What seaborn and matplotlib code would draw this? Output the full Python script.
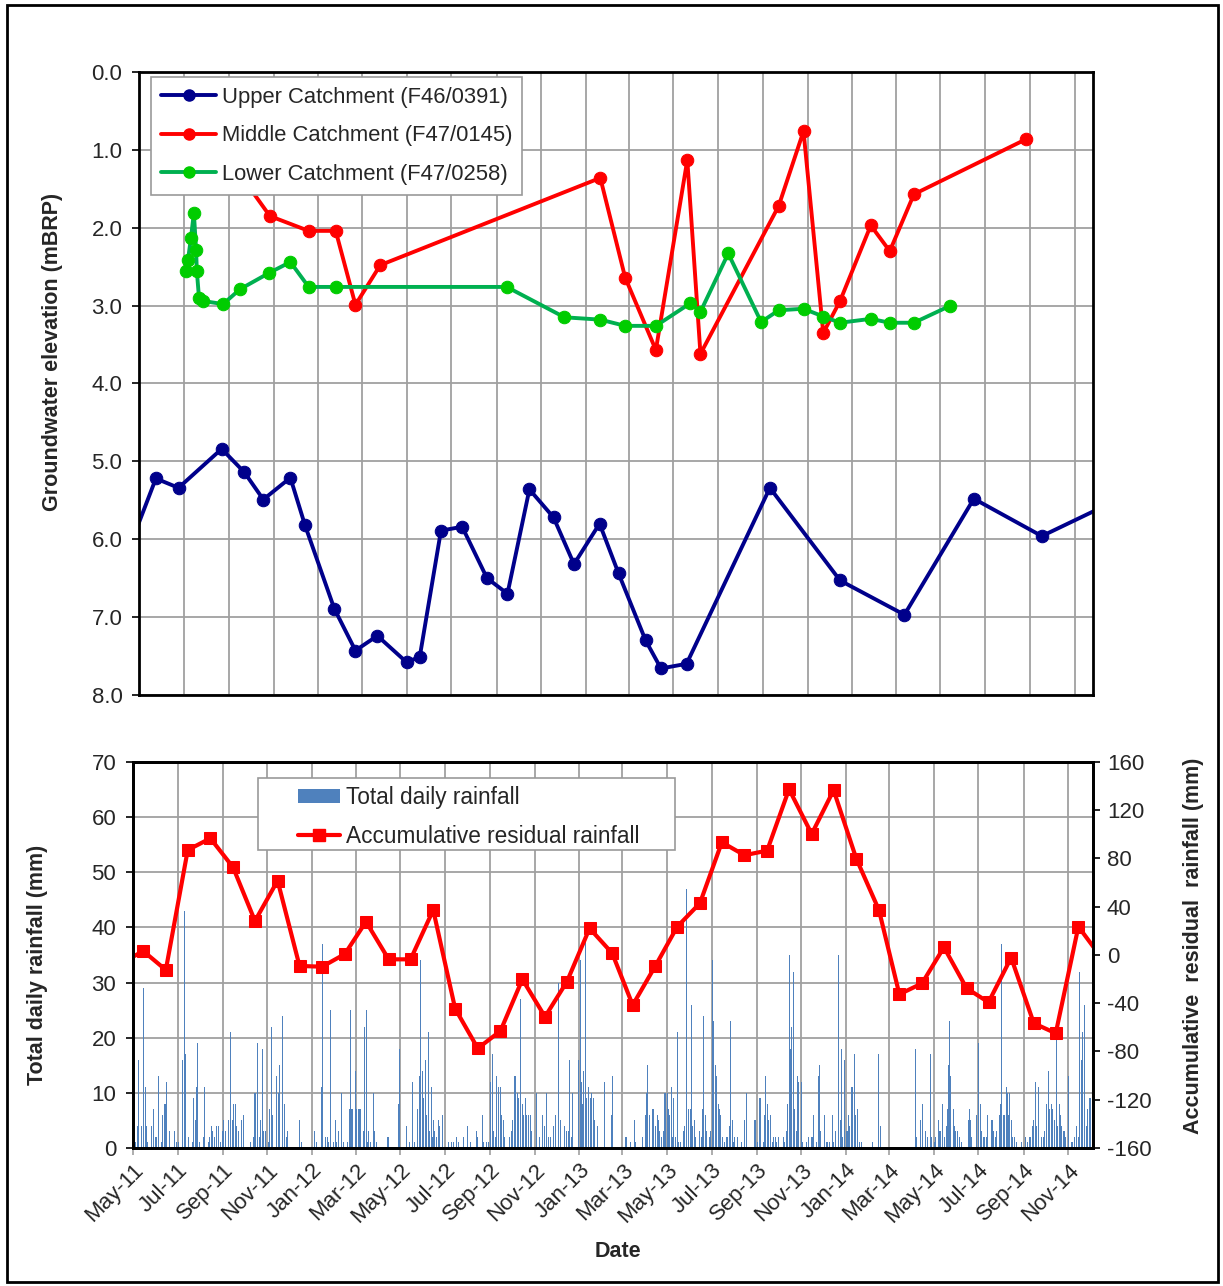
import numpy as np
import pandas as pd
import matplotlib
matplotlib.use('Agg')
import matplotlib.pyplot as plt
import matplotlib.dates as mdates
from matplotlib.patches import Rectangle, Patch
from matplotlib.lines import Line2D
import seaborn as sns

#------------------------------- DATA ---------------------------------------#
# groundwater levels (m below reference point)
upper_dates = ['2011-04-14', '2011-05-24', '2011-06-24', '2011-08-22', '2011-09-22',
               '2011-10-18', '2011-11-24', '2011-12-14', '2012-01-23', '2012-02-21',
               '2012-03-22', '2012-05-01', '2012-05-19', '2012-06-17', '2012-07-16',
               '2012-08-19', '2012-09-16', '2012-10-16', '2012-11-18', '2012-12-16',
               '2013-01-20', '2013-02-15', '2013-03-24', '2013-04-14', '2013-05-19',
               '2013-09-10', '2013-12-15', '2014-03-13', '2014-06-16', '2014-09-17',
               '2014-12-17']
upper_level = [6.2, 5.22, 5.34, 4.84, 5.14, 5.49, 5.21, 5.82, 6.89, 7.43, 7.24, 7.58,
               7.51, 5.89, 5.84, 6.50, 6.70, 5.36, 5.72, 6.32, 5.80, 6.44, 7.30, 7.66,
               7.60, 5.34, 6.53, 6.97, 5.48, 5.96, 5.55]

middle_dates = ['2011-09-15', '2011-10-27', '2011-12-19', '2012-01-25', '2012-02-21',
                '2012-03-26', '2013-01-21', '2013-02-24', '2013-04-07', '2013-05-20',
                '2013-06-07', '2013-09-22', '2013-10-26', '2013-11-22', '2013-12-15',
                '2014-01-26', '2014-02-21', '2014-03-26', '2014-08-27']
middle_level = [1.3, 1.85, 2.04, 2.04, 2.99, 2.48, 1.36, 2.64, 3.57, 1.13, 3.62, 1.72,
                0.76, 3.35, 2.94, 1.97, 2.30, 1.57, 0.86]

lower_dates = ['2011-07-04', '2011-07-07', '2011-07-11', '2011-07-15', '2011-07-18',
               '2011-07-19', '2011-07-22', '2011-07-27', '2011-08-24', '2011-09-16',
               '2011-10-26', '2011-11-24', '2011-12-19', '2012-01-25', '2012-09-15',
               '2012-12-03', '2013-01-21', '2013-02-24', '2013-04-07', '2013-05-24',
               '2013-06-07', '2013-07-15', '2013-08-29', '2013-09-22', '2013-10-26',
               '2013-11-22', '2013-12-15', '2014-01-26', '2014-02-21', '2014-03-26',
               '2014-05-15']
lower_level = [2.55, 2.41, 2.13, 1.81, 2.28, 2.55, 2.90, 2.94, 2.98, 2.79, 2.58, 2.44,
               2.76, 2.76, 2.76, 3.15, 3.18, 3.26, 3.26, 2.97, 3.08, 2.33, 3.21, 3.06,
               3.04, 3.14, 3.22, 3.17, 3.22, 3.22, 3.00]

# accumulative residual rainfall, one value per month (Apr-11 .. Dec-14)
resid_mm = [-7, 3.3, -12.4, 87, 96.7, 72.7, 28.2, 61.6, -9.1,
            -9.7, 0.8, 27.6, -3.6, -3.6, 37.3, -44.5, -77.4, -63, -20.2, -51.2, -22.1,
            22.1, 1.4, -41.5, -9.1, 23.5, 42.9, 93.4, 82.7, 86.5, 137.4, 100.3, 136.6,
            79.9, 37.3, -32.6, -23.5, 6.4, -27.6, -39.2, -2.2, -56.6, -64.9, 23.5,
            -1]

# total daily rainfall: day number counted from 1 May 2011, and mm
rain_day = [4, 6, 8, 12, 15, 17, 19, 20, 26, 28, 31, 32, 35, 39, 41, 43, 45, 46, 48, 50,
            57, 60, 62, 68, 70, 71, 72, 74, 76, 81, 83, 85, 87, 89, 91, 96, 98, 100, 103,
            105, 107, 109, 111, 115, 117, 120, 122, 124, 127, 131, 133, 134, 136, 138,
            140, 142, 144, 148, 151, 161, 165, 166, 168, 170, 173, 175, 177, 179, 182,
            186, 187, 189, 191, 196, 197, 199, 201, 205, 207, 208, 210, 212, 228, 231,
            249, 251, 256, 258, 259, 260, 263, 266, 268, 271, 274, 277, 279, 281, 286,
            288, 294, 296, 298, 299, 301, 304, 306, 309, 310, 312, 315, 317, 319, 320,
            321, 323, 325, 329, 330, 333, 345, 348, 350, 363, 365, 374, 379, 382, 383,
            386, 389, 392, 393, 394, 396, 398, 400, 402, 404, 406, 408, 410, 412, 413,
            415, 418, 420, 423, 424, 432, 436, 439, 443, 445,
            449, 452, 458, 462, 470, 471, 479, 480, 484, 486, 490, 492, 494, 496, 498,
            500, 501, 503, 505, 507, 509, 516, 518, 520, 522, 524, 526, 528, 530, 531,
            533, 535, 537, 539, 541, 542, 544, 546, 552, 553, 557, 561, 563, 566, 569,
            572, 575, 578, 582, 583, 585, 591, 593, 596, 598, 600, 602, 610, 612, 614,
            615, 617, 619, 621, 623, 624, 626, 628, 630, 632, 636, 646, 655, 656, 674,
            676, 681, 686, 688, 694, 697, 701, 703, 704, 707, 711, 713, 715, 718, 719,
            721, 723, 726, 728, 729, 731, 733, 735, 737, 739, 740, 743, 745, 747, 750,
            753, 755, 757, 758, 760, 761, 763, 764, 766, 768, 770, 776, 778, 780, 781,
            783, 785, 789, 791, 793, 795, 797, 799, 801, 803, 804, 807, 810, 812, 814,
            816, 818, 820, 822, 823, 827, 833, 835, 837, 840, 851, 852, 855, 857, 859,
            861, 863, 864, 866, 868, 870, 872, 873, 875, 877, 879, 881, 883, 884, 887,
            890,
            892, 894, 896, 898, 899, 900, 902, 904, 906, 908, 909, 911, 913, 915, 917,
            922, 924, 929, 930, 932, 935, 938, 940, 941, 946, 949, 951, 953, 957, 959,
            961, 962, 965, 966, 968, 970, 971, 974, 976, 978, 980, 981, 983, 985, 987,
            989, 991, 992, 994, 997, 1012, 1020, 1023, 1071, 1073, 1078, 1081, 1085,
            1087, 1091, 1093, 1095, 1097, 1099, 1102, 1104, 1105, 1108, 1111, 1113, 1115,
            1116, 1117, 1119, 1121, 1123, 1125, 1126, 1128, 1131, 1134, 1143, 1145, 1146,
            1148, 1155, 1157, 1158, 1160, 1162, 1164, 1166, 1168, 1170, 1173, 1175, 1177,
            1178, 1180, 1182, 1184, 1186, 1188, 1189, 1191, 1193, 1195, 1197, 1199, 1200,
            1202, 1204, 1207, 1209, 1216, 1222, 1224, 1227, 1229, 1231, 1233, 1235, 1237,
            1239, 1240, 1243, 1246, 1248, 1250, 1251, 1253, 1255, 1257, 1259, 1261, 1262,
            1264, 1266, 1268, 1270, 1271, 1273, 1275, 1277, 1280, 1281, 1284, 1286, 1289,
            1291, 1292, 1294, 1296, 1298, 1300, 1302, 1303, 1305, 1307, 1309, 1311]
rain_mm = [1, 4, 16, 4, 29, 11, 4, 1, 4, 7, 2, 2, 13, 1, 6, 8, 8, 12, 1, 3,
           3, 1, 1, 16, 43, 15, 17, 13, 2, 1, 9, 5, 11, 19, 1, 2, 11, 7, 1,
           2, 4, 3, 2, 4, 4, 1, 3, 5, 3, 5, 2, 21, 5, 8,
           8, 4, 3, 5, 6, 1, 2, 10, 10, 19, 2, 5, 18, 3, 3,
           1, 7, 22, 6, 13, 3, 10, 15, 24, 8, 4, 2, 3, 5, 1,
           3, 1, 3, 11, 37, 16, 2, 2, 1, 25, 1, 5, 1, 3, 10,
           1, 1, 7, 25, 7, 7, 14, 7, 7, 7, 7, 3, 22, 2, 25,
           1, 3, 1, 10, 3, 1, 2, 2, 2, 8, 18, 4, 1, 12, 8,
           1, 7, 13, 13, 34, 14, 9, 16, 6, 21, 3, 11, 2, 5, 3,
           2, 5, 4, 11, 6, 1, 1, 1, 2, 1,
           3, 2, 4, 1, 3, 2, 6, 1, 1, 1, 12, 17, 3, 2, 13,
           11, 7, 11, 6, 5, 2, 2, 3, 5, 13, 13, 10, 9, 6, 27,
           8, 6, 9, 6, 6, 4, 6, 3, 10, 5, 2, 6, 4, 10, 2,
           2, 4, 6, 30, 5, 5, 4, 3, 3, 16, 2, 10, 16, 34, 12,
           8, 14, 38, 9, 5, 11, 9, 10, 9, 5, 4, 12, 6, 13, 2,
           2, 1, 5, 1, 4, 2, 6, 10, 15, 6, 7, 7, 4, 6, 5,
           3, 2, 3, 10, 10, 10, 7, 6, 11, 2, 9, 2, 21, 1, 1,
           3, 4, 47, 13, 7, 7, 7, 26, 4, 5, 2, 3, 2, 7, 24,
           6, 3, 2, 3, 34, 23, 15, 13, 8, 7, 6, 2, 1, 2, 2,
           4, 23, 5, 1, 2, 2, 1, 3, 5, 10, 5, 5, 1, 9, 9,
           17, 1, 6, 13, 8, 5, 4, 6, 1, 2, 2, 1, 2, 2, 2,
           2,
           1, 3, 8, 35, 21, 18, 22, 32, 7, 3, 13, 12, 12, 12, 1,
           1, 2, 2, 2, 6, 1, 13, 15, 3, 6, 1, 1, 1, 6, 1,
           1, 3, 5, 35, 5, 18, 2, 16, 3, 3, 6, 4, 11, 11, 17,
           6, 6, 7, 1, 1, 1, 17, 4, 18, 2, 5, 8, 3,
           2, 17, 2, 15, 1, 2, 5, 3, 3, 8, 2, 4, 7,
           15, 23, 13, 31, 7, 4, 3, 3, 2, 1, 5, 7, 5,
           2, 6, 19, 6, 8, 3, 2, 2, 2, 6, 4, 5, 5,
           3, 2, 3, 2, 6, 8, 37, 6, 6, 11, 10, 6, 10,
           5, 2, 2, 1, 1, 2, 1, 2, 2, 4, 5, 12, 4,
           11, 4, 2, 2, 3, 8, 8, 14, 7, 8, 7, 5, 3,
           20, 4, 8, 6, 4, 3, 3, 2, 1, 13, 1, 1, 2,
           3, 4, 2, 32, 16, 21, 26, 2, 4, 7, 9, 9]

#----------------------------------------------------------------------------#
sns.set_style('white')
plt.rcParams['font.family'] = ['Liberation Sans', 'DejaVu Sans']
plt.rcParams['axes.unicode_minus'] = False

start = pd.Timestamp('2011-05-01')
upper = pd.DataFrame({'date': pd.to_datetime(upper_dates), 'level': upper_level})
middle = pd.DataFrame({'date': pd.to_datetime(middle_dates), 'level': middle_level})
lower = pd.DataFrame({'date': pd.to_datetime(lower_dates), 'level': lower_level})
resid = pd.DataFrame({'date': pd.date_range('2011-04-01', '2014-12-01', freq='MS')
                      + pd.Timedelta(days=14), 'mm': resid_mm})
rain = pd.DataFrame({'date': start + pd.to_timedelta(rain_day, unit='D'), 'mm': rain_mm})

fig = plt.figure(figsize=(12.23, 12.86), dpi=100)
ax1 = fig.add_axes([0.1137, 0.4596, 0.780, 0.4844])
ax = fig.add_axes([0.1087, 0.1073, 0.785, 0.3002])

grid_c = '#a0a0a0'
fs = 16        # tick labels
fb = 15.5      # bold axis titles

#--------------------------- GROUNDWATER PANEL ------------------------------#
sns.lineplot(data=upper, x='date', y='level', ax=ax1, color='#00008B', lw=2.8,
             marker='o', markersize=9, markeredgecolor='#00008B', estimator=None, sort=False)
sns.lineplot(data=middle, x='date', y='level', ax=ax1, color='#FF0000', lw=2.8,
             marker='o', markersize=9, markeredgecolor='#FF0000', estimator=None, sort=False)
sns.lineplot(data=lower, x='date', y='level', ax=ax1, color='#00B050', lw=2.8,
             marker='o', markersize=9, markerfacecolor='#00CC00', markeredgecolor='#00CC00',
             estimator=None, sort=False)

ax1.set_xlim(start, pd.Timestamp('2014-11-26'))
ax1.set_ylim(8, 0)
ax1.set_yticks(np.arange(0, 9, 1))
ax1.set_yticklabels(['%.1f' % v for v in np.arange(0, 9, 1)], fontsize=fs)
ax1.xaxis.set_major_locator(mdates.MonthLocator(bymonth=[1, 3, 5, 7, 9, 11]))
ax1.tick_params(axis='x', bottom=False, labelbottom=False)
ax1.tick_params(axis='y', left=True, length=5, width=1.2, color='black', pad=7)
ax1.grid(True, color=grid_c, lw=1.3)
ax1.set_xlabel('')
ax1.set_ylabel('Groundwater elevation (mBRP)', fontsize=fb, fontweight='bold')
ax1.yaxis.set_label_coords(-0.08, 0.55)
for s in ax1.spines.values():
    s.set_color('black')
    s.set_linewidth(2)

h_up = Line2D([], [], color='#00008B', lw=2.8, marker='o', markersize=8)
h_mid = Line2D([], [], color='#FF0000', lw=2.8, marker='o', markersize=8)
h_low = Line2D([], [], color='#00B050', lw=2.8, marker='o', markersize=8,
               markerfacecolor='#00CC00', markeredgecolor='#00CC00')
leg1 = ax1.legend([h_up, h_mid, h_low],
                  ['Upper Catchment (F46/0391)', 'Middle Catchment (F47/0145)',
                   'Lower Catchment (F47/0258)'],
                  loc='upper left', bbox_to_anchor=(0.013, 0.992), fontsize=15.8,
                  frameon=True, fancybox=False, framealpha=1, edgecolor='#999999',
                  handlelength=2.5, handletextpad=0.25, labelspacing=0.8, borderpad=0.45,
                  borderaxespad=0)
leg1.get_frame().set_linewidth(1.2)

#----------------------------- RAINFALL PANEL -------------------------------#
ax.bar(rain['date'], rain['mm'], width=1.3, color='#4F81BD', linewidth=0, zorder=2)
ax.set_xlim(start, pd.Timestamp('2014-12-05'))
ax.set_ylim(0, 70)
ax.set_yticks(np.arange(0, 71, 10))
ax.tick_params(axis='y', labelsize=fs, left=True, length=5, width=1.2, color='black', pad=7)
ax.xaxis.set_major_locator(mdates.MonthLocator(bymonth=[1, 3, 5, 7, 9, 11]))
ax.xaxis.set_major_formatter(mdates.DateFormatter('%b-%y'))
ax.tick_params(axis='x', labelsize=fs, bottom=True, length=5, width=1.2, color=grid_c)
plt.setp(ax.get_xticklabels(), rotation=45, ha='right', rotation_mode='anchor')
ax.grid(True, color=grid_c, lw=1.3, zorder=0)
ax.set_axisbelow(True)
ax.set_ylabel('Total daily rainfall (mm)', fontsize=fb, fontweight='bold')
ax.yaxis.set_label_coords(-0.088, 0.474)
ax.set_xlabel('Date', fontsize=fb, fontweight='bold')
ax.xaxis.set_label_coords(0.505, -0.242)
for s in ax.spines.values():
    s.set_color('black')
    s.set_linewidth(2)

ax2 = ax.twinx()
sns.lineplot(data=resid, x='date', y='mm', ax=ax2, color='#FF0000', lw=3,
             marker='s', markersize=9, markeredgecolor='#FF0000', estimator=None, sort=False)
ax2.set_xlim(start, pd.Timestamp('2014-12-05'))
ax2.set_ylim(-160, 160)
ax2.set_yticks(np.arange(-160, 161, 40))
ax2.tick_params(axis='y', labelsize=fs, right=True, length=5, width=1.2, color='black', pad=5)
ax2.set_xlabel('')
ax2.set_ylabel('Accumulative  residual  rainfall (mm)', fontsize=fb, fontweight='bold',
               rotation=90)
ax2.yaxis.set_label_coords(1.094, 0.523)
ax2.grid(False)
for s in ax2.spines.values():
    s.set_color('black')
    s.set_linewidth(2)

# legend box for the rainfall panel
ax2.add_patch(Rectangle((0.1302, 0.772), 0.4344, 0.1865, transform=ax2.transAxes,
                        facecolor='white', edgecolor='#999999', lw=1.2, zorder=5))
h_bar = Patch(facecolor='#4F81BD', edgecolor='none')
h_res = Line2D([], [], color='#FF0000', lw=3, marker='s', markersize=9)
leg2 = ax2.legend([h_bar, h_res], ['Total daily rainfall', 'Accumulative residual rainfall'],
                  loc='upper left', bbox_to_anchor=(0.172, 0.937), fontsize=16.3,
                  frameon=False, handlelength=1.85, handletextpad=0.25, labelspacing=0.68,
                  handleheight=0.55, borderpad=0, borderaxespad=0)
leg2.set_zorder(6)

# outer frame around the whole figure
fig.add_artist(Rectangle((0.006, 0.003), 0.99, 0.993, transform=fig.transFigure,
                         fill=False, edgecolor='black', lw=2))

fig.savefig('out.png', dpi=100)
